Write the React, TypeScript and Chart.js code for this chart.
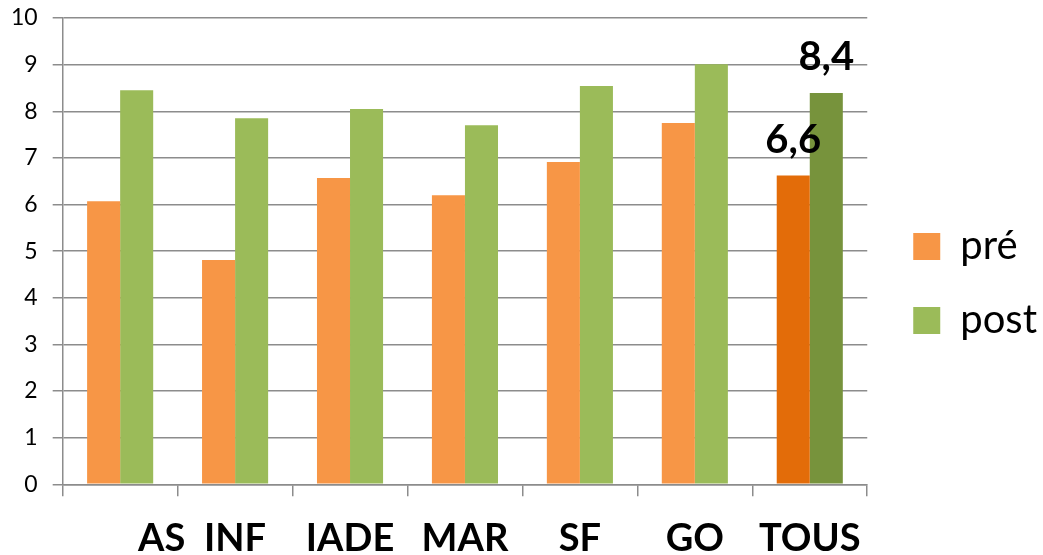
import React, { useEffect, useRef } from "react";
import { Chart, registerables } from "chart.js";

Chart.register(...registerables);

const categories = ["         AS", "INF", "IADE", "MAR", "SF", "GO", "TOUS"];
const preValues = [6.07, 4.81, 6.57, 6.2, 6.91, 7.75, 6.62];
const postValues = [8.45, 7.85, 8.05, 7.7, 8.54, 9.01, 8.39];
const preColors = ["#F79646", "#F79646", "#F79646", "#F79646", "#F79646", "#F79646", "#E36C09"];
const postColors = ["#9BBB59", "#9BBB59", "#9BBB59", "#9BBB59", "#9BBB59", "#9BBB59", "#77933C"];
const preLabels = ["", "", "", "", "", "", "6,6"];
const postLabels = ["", "", "", "", "", "", "8,4"];
const yTicks = [0, 1, 2, 3, 4, 5, 6, 7, 8, 9, 10];

const FONT = "Lato, 'Open Sans', sans-serif";

const valueLabelPlugin = {
  id: "valueLabels",
  afterDatasetsDraw(chart: any) {
    const ctx = chart.ctx;
    const lists = [preLabels, postLabels];
    ctx.save();
    ctx.font = `bold 40px ${FONT}`;
    ctx.fillStyle = "#000";
    ctx.textAlign = "center";
    ctx.textBaseline = "alphabetic";
    chart.data.datasets.forEach((ds: any, di: number) => {
      const meta = chart.getDatasetMeta(di);
      meta.data.forEach((bar: any, i: number) => {
        const t = lists[di][i];
        if (t) ctx.fillText(t, bar.x, bar.y - 23);
      });
    });
    ctx.restore();
  },
};

const legendShiftPlugin = {
  id: "legendShift",
  afterLayout(chart: any) {
    const lg = chart.legend;
    if (lg) {
      lg.left += 12;
      lg.right += 12;
      lg.top -= 16;
      lg.bottom -= 16;
    }
  },
};

export default function App() {
  const ref = useRef<HTMLCanvasElement>(null);
  useEffect(() => {
    const chart = new Chart(ref.current!, {
      type: "bar",
      data: {
        labels: categories,
        datasets: [
          { label: "pré", data: preValues, backgroundColor: preColors },
          { label: "post", data: postValues, backgroundColor: postColors },
        ],
      },
      options: {
        animation: false,
        responsive: false,
        maintainAspectRatio: false,
        layout: { padding: { top: 18, left: -4, right: 8, bottom: -26 } },
        datasets: { bar: { barPercentage: 1, categoryPercentage: 0.575 } } as any,
        plugins: {
          legend: {
            position: "right",
            labels: {
              boxWidth: 27,
              boxHeight: 27,
              padding: 34,
              color: "#000",
              font: { family: FONT, size: 40 },
              generateLabels: (chart: any) =>
                chart.data.datasets.map((ds: any, i: number) => ({
                  text: ds.label,
                  fillStyle: i === 0 ? preColors[0] : postColors[0],
                  strokeStyle: "rgba(0,0,0,0)",
                  lineWidth: 0,
                  datasetIndex: i,
                })),
            },
          },
          tooltip: { enabled: false },
        },
        scales: {
          x: {
            grid: {
              offset: true,
              drawOnChartArea: false,
              drawTicks: true,
              tickLength: 12,
              color: "#8c8c8c",
              lineWidth: 1.5,
            },
            border: { color: "#8c8c8c", width: 1.5 },
            ticks: {
              color: "#000",
              font: { family: FONT, size: 38, weight: "bold", lineHeight: 2.23 },
              padding: 0,
              maxRotation: 0,
              autoSkip: false,
            },
          },
          y: {
            min: 0,
            max: 10,
            afterBuildTicks: (axis: any) => {
              axis.ticks = yTicks.map((v) => ({ value: v }));
            },
            grid: { color: "#8c8c8c", lineWidth: 1.5, tickLength: 10 },
            border: { color: "#8c8c8c", width: 1.5 },
            ticks: {
              color: "#000",
              font: { family: FONT, size: 23, lineHeight: 0.01 },
              padding: 15,
            },
          },
        },
      },
      plugins: [valueLabelPlugin, legendShiftPlugin],
    });
    return () => chart.destroy();
  }, []);
  return (
    <div style={{ position: "fixed", left: 0, top: 0, width: 1043, height: 555, background: "#fff" }}>
      <canvas ref={ref} width={1043} height={555} />
    </div>
  );
}
